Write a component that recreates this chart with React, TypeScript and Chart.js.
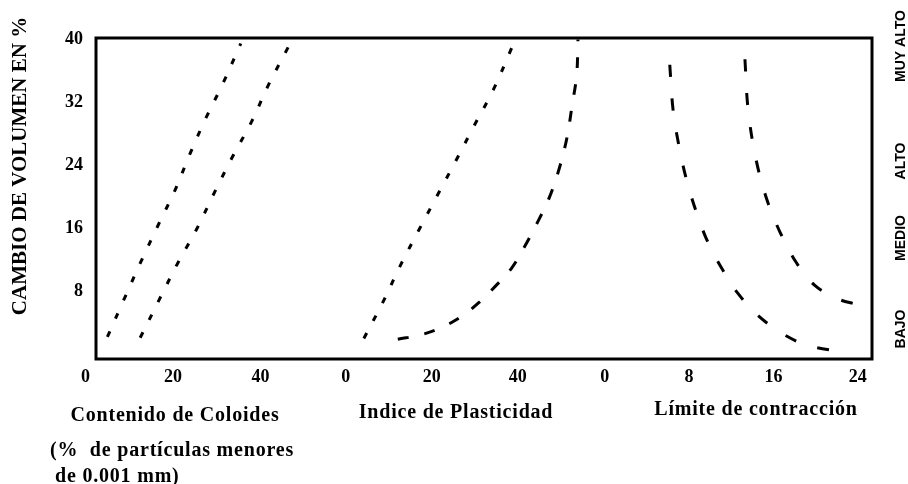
import { useEffect, useRef } from "react";
import { Chart, registerables } from "chart.js";

Chart.register(...registerables);

// ---- Tick labels ----
const yTicks = [8, 16, 24, 32, 40];
const coloidTicks = [0, 20, 40];
const plastTicks = [0, 20, 40];
const contrTicks = [0, 8, 16, 24];

// ---- Texts ----
const yTitle = "CAMBIO DE VOLUMEN EN %";
const groupTitles = ["Contenido de Coloides", "Indice de Plasticidad", "Límite de contracción"];
const coloidSubtitle = ["(%  de partículas menores", "de 0.001 mm)"];
const classLabels = ["BAJO", "MEDIO", "ALTO", "MUY ALTO"];

// ---- Series (native units of each group) ----
// Contenido de coloides
const coloidA_x = [5, 8.9, 12.7, 16.6, 20.5, 23.9, 27.5, 31.4, 35.5];
const coloidA_y = [2.2, 7.1, 11.8, 16.4, 20.9, 25.5, 30.0, 34.4, 39.5];
const coloidB_x = [12.5, 17.0, 21.2, 25.4, 29.6, 33.6, 38.0, 41.8, 46.5];
const coloidB_y = [2.1, 7.1, 11.7, 15.9, 20.7, 25.1, 29.6, 34.2, 39.2];
// Indice de plasticidad
const plastA_x = [4.2, 8.7, 12.8, 17.0, 21.4, 25.7, 30.0, 34.3, 38.8];
const plastA_y = [2.0, 6.7, 11.4, 15.8, 20.3, 24.7, 29.2, 33.6, 39.2];
const plastB_x = [12.1, 17.6, 22.3, 26.9, 30.8, 34.7, 38.5, 41.6, 44.7, 47.4, 49.8, 51.5, 52.6, 53.7, 54.0];
const plastB_y = [1.9, 2.5, 3.4, 4.8, 6.5, 8.6, 10.9, 13.7, 16.9, 20.0, 23.9, 27.7, 31.5, 35.5, 40.0];
// Limite de contraccion
const contrA_x = [6.17, 6.48, 7.05, 7.81, 8.76, 9.8, 11.2, 12.6, 14.4, 16.3, 18.3, 20.1, 22.1];
const contrA_y = [36.8, 31.1, 26.4, 21.9, 17.8, 14.2, 10.7, 7.8, 5.1, 3.1, 1.6, 0.85, 0.4];
const contrB_x = [13.3, 13.6, 14.3, 15.3, 16.6, 18.2, 19.9, 22.0, 24.0];
const contrB_y = [37.5, 31.1, 25.1, 20.0, 15.6, 11.6, 8.8, 7.1, 6.3];

// Placement of each group on a shared horizontal axis
const GROUPS = {
  coloid: { offset: 0, factor: 1 },
  plast: { offset: 59.5, factor: 0.983 },
  contr: { offset: 118.7, factor: 2.41 },
};
type GroupKey = keyof typeof GROUPS;
const toShared = (g: GroupKey, v: number) => GROUPS[g].offset + GROUPS[g].factor * v;

const xTickValues: number[] = [
  ...coloidTicks.map((v) => toShared("coloid", v)),
  ...plastTicks.map((v) => toShared("plast", v)),
  ...contrTicks.map((v) => toShared("contr", v)),
];
const xTickLabels: string[] = [...coloidTicks, ...plastTicks, ...contrTicks].map(String);

const build = (g: GroupKey, xs: number[], ys: number[]) =>
  xs.map((x, i) => ({ x: toShared(g, x), y: ys[i] }));

const SERIF = '"Liberation Serif", "Times New Roman", serif';
const SANS = '"Liberation Sans", Arial, sans-serif';

const annotations = {
  id: "annotations",
  afterDraw(chart: any) {
    const { ctx, chartArea: a } = chart;
    ctx.save();
    // frame
    ctx.strokeStyle = "#000";
    ctx.lineWidth = 3;
    ctx.strokeRect(a.left, a.top, a.right - a.left, a.bottom - a.top);
    ctx.fillStyle = "#000";

    // y axis title
    ctx.save();
    ctx.font = `bold 21px ${SERIF}`;
    ctx.textAlign = "center";
    ctx.textBaseline = "middle";
    ctx.translate(21, 166);
    ctx.rotate(-Math.PI / 2);
    ctx.fillText(yTitle, 0, 0);
    ctx.restore();

    // class labels on the right
    const classY = [329, 238, 161, 46];
    ctx.font = `bold 14px ${SANS}`;
    classLabels.forEach((t, i) => {
      ctx.save();
      ctx.textAlign = "center";
      ctx.textBaseline = "middle";
      ctx.translate(901, classY[i]);
      ctx.rotate(-Math.PI / 2);
      ctx.fillText(t, 0, 0);
      ctx.restore();
    });

    // group titles
    ctx.font = `bold 20px ${SERIF}`;
    (ctx as any).letterSpacing = "0.8px";
    ctx.textBaseline = "middle";
    ctx.textAlign = "center";
    ctx.fillText(groupTitles[0], 175, 416);
    ctx.fillText(groupTitles[1], 456, 413);
    ctx.fillText(groupTitles[2], 756, 410);
    ctx.textAlign = "left";
    ctx.fillText(coloidSubtitle[0], 50, 451);
    ctx.fillText(coloidSubtitle[1], 55, 477);
    (ctx as any).letterSpacing = "0px";
    ctx.restore();
  },
};

export default function App() {
  const ref = useRef<HTMLCanvasElement | null>(null);
  useEffect(() => {
    if (!ref.current) return;
    const line = (data: any[], dash: number[]) => ({
      data,
      borderColor: "#000",
      borderWidth: 3,
      borderDash: dash,
      borderCapStyle: "butt",
      pointRadius: 0,
      tension: 0.35,
      fill: false,
    });
    const chart = new Chart(ref.current, {
      type: "line",
      data: {
        datasets: [
          line(build("coloid", coloidA_x, coloidA_y), [6, 14]),
          line(build("coloid", coloidB_x, coloidB_y), [6, 14]),
          line(build("plast", plastA_x, plastA_y), [6, 14]),
          line(build("plast", plastB_x, plastB_y), [11, 16]),
          line(build("contr", contrA_x, contrA_y), [12, 22]),
          line(build("contr", contrB_x, contrB_y), [12, 22]),
        ] as any,
      },
      options: {
        animation: false,
        responsive: false,
        devicePixelRatio: 1,
        layout: { padding: { left: 0, right: 36, top: 38, bottom: 0 } },
        plugins: { legend: { display: false }, tooltip: { enabled: false } },
        scales: {
          x: {
            type: "linear",
            min: 2.4,
            max: 179.8,
            grid: { display: false, drawTicks: false },
            border: { display: false },
            afterBuildTicks: (s: any) => {
              s.ticks = xTickValues.map((v) => ({ value: v }));
            },
            afterFit: (s: any) => {
              s.height = 125;
            },
            ticks: {
              autoSkip: false,
              maxRotation: 0,
              minRotation: 0,
              padding: 8,
              color: "#000",
              font: { family: SERIF, weight: "bold", size: 18 },
              callback: (_v: any, i: number) => xTickLabels[i],
            },
          },
          y: {
            type: "linear",
            min: -0.6,
            max: 40.2,
            grid: { display: false, drawTicks: false },
            border: { display: false },
            afterBuildTicks: (s: any) => {
              s.ticks = yTicks.map((v) => ({ value: v }));
            },
            afterFit: (s: any) => {
              s.width = 96;
            },
            ticks: {
              padding: 13,
              color: "#000",
              font: { family: SERIF, weight: "bold", size: 18 },
              callback: (v: any) => String(v),
            },
          },
        },
      } as any,
      plugins: [annotations],
    });
    return () => chart.destroy();
  }, []);
  return (
    <div style={{ position: "fixed", left: 0, top: 0, width: 908, height: 484, background: "#fff" }}>
      <canvas ref={ref} width={908} height={484} style={{ display: "block" }} />
    </div>
  );
}
